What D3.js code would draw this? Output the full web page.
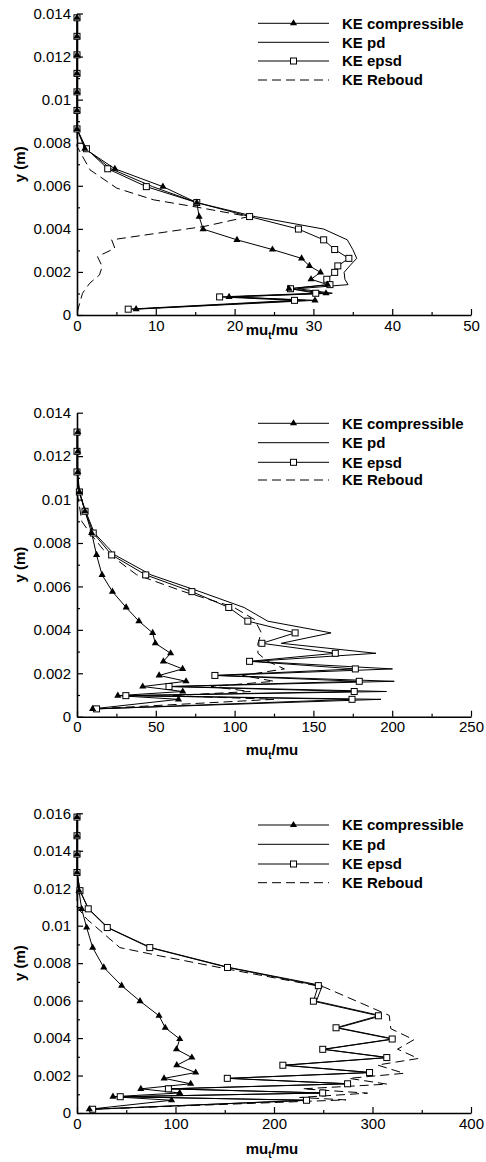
<!DOCTYPE html>
<html><head><meta charset="utf-8">
<script src="https://cdn.jsdelivr.net/npm/d3@7"></script>
<style>body{margin:0;background:#fff;} svg{display:block;font-family:"Liberation Sans",Arial,sans-serif;}</style>
</head><body><svg id="c" width="486" height="1162"></svg>
<script>
// ---------------- DATA ----------------
const seriesNames = ["KE compressible", "KE pd", "KE epsd", "KE Reboud"];

// Panel 1
const p1Y = [0.0138, 0.01294, 0.01208, 0.01122, 0.01036, 0.0095, 0.00864, 0.00772, 0.00679, 0.00596, 0.00522, 0.00457, 0.00399, 0.00349, 0.00304, 0.00263, 0.00228, 0.00198, 0.00166, 0.00141, 0.00122, 0.00101, 0.00084, 0.00068, 0.00027];
const p1Comp = [0, 0, 0, 0, 0, 0, 0, 1.0, 4.8, 10.9, 15.2, 15.5, 16.0, 20.3, 24.8, 28.5, 29.5, 30.9, 29.7, 31.8, 26.9, 31.6, 19.3, 30.2, 7.5];
const p1Pd = [0, 0, 0, 0, 0, 0, 0, 1.1, 4.3, 9.6, 15.2, 22.6, 31.3, 34.3, 35.0, 35.5, 34.6, 33.9, 34.0, 34.4, 28.0, 32.4, 19.5, 29.0, 7.0];
const p1Epsd = [0, 0, 0, 0, 0, 0, 0, 1.2, 3.9, 8.8, 15.2, 21.9, 28.1, 31.3, 32.7, 34.5, 33.1, 32.7, 31.7, 32.1, 27.1, 30.3, 18.1, 27.6, 6.5];
const p1RebY = [0.0086, 0.00783, 0.00674, 0.00589, 0.00535, 0.00501, 0.00457, 0.00411, 0.00349, 0.0031, 0.00271, 0.00225, 0.00186, 0.00147, 0.00101, 0.00023, 0];
const p1RebX = [0, 0, 1.65, 5.05, 9.7, 15.2, 21.8, 16.1, 4.4, 4.8, 2.6, 3.2, 2.85, 1.6, 0.7, 0.1, 0];
const p1XTicks = [0, 10, 20, 30, 40, 50];
const p1YTicks = [0, 0.002, 0.004, 0.006, 0.008, 0.01, 0.012, 0.014];

// Panel 2
const p2Y = [0.01311, 0.01222, 0.01127, 0.01035, 0.00946, 0.00846, 0.00745, 0.00653, 0.00576, 0.00503, 0.0044, 0.00386, 0.00338, 0.00292, 0.00255, 0.0022, 0.0019, 0.00163, 0.00139, 0.00116, 0.00097, 0.0008, 0.00036];
const p2Comp = [0.5, 0.5, 0.5, 1.5, 5.1, 9.3, 12.4, 15.9, 22.5, 31.2, 39.3, 48, 49.7, 59.4, 54.8, 67, 52.1, 69.2, 41.7, 67.1, 25.9, 64.4, 9.9];
const p2Pd = [0, 0, 0, 1.5, 5.5, 11, 24, 47, 78, 106, 121, 161.2, 129.6, 189.7, 112, 200.2, 90, 201.3, 60, 196.4, 32, 192.9, 12];
const p2Epsd = [0, 0, 0, 1.5, 5.1, 10.3, 22, 43.6, 72.9, 96.3, 108.4, 138.4, 117.3, 163.9, 109.5, 176.6, 87.5, 179.1, 58.4, 175.9, 31, 174.5, 12.4];
const p2RebY = [0.0103, 0.00983, 0.009, 0.00846, 0.00769, 0.00654, 0.00577, 0.00506, 0.00447, 0.00386, 0.00338, 0.00292, 0.00255, 0.0022, 0.0019, 0.00163, 0.00139, 0.00116, 0.00097, 0.0008, 0.00036];
const p2RebX = [0, 1.3, 3, 8.2, 16.7, 37.8, 67.3, 99, 112.7, 117, 114.8, 114.8, 121, 131.6, 105, 125, 85, 110, 60, 125, 10];
const p2XTicks = [0, 50, 100, 150, 200, 250];
const p2YTicks = [0, 0.002, 0.004, 0.006, 0.008, 0.01, 0.012, 0.014];

// Panel 3
const p3Y = [0.0158, 0.0148, 0.01382, 0.01284, 0.01187, 0.0109, 0.0099, 0.00883, 0.00777, 0.0068, 0.00597, 0.00519, 0.00455, 0.00395, 0.0034, 0.00296, 0.00255, 0.00216, 0.00185, 0.00156, 0.00129, 0.00107, 0.00087, 0.00068, 0.0002];
const p3Comp = [0, 0, 0, 0, 2, 4.7, 9.8, 15.9, 27.2, 45.3, 64, 83.3, 89.6, 104.3, 101, 116.6, 101.3, 120.5, 88.4, 115.4, 64.8, 104.3, 36.5, 96, 12.5];
const p3Pd = [0, 0, 0, 0, 3, 11.8, 31.5, 75, 154.5, 249, 243, 309, 265, 322, 251, 316, 211, 299, 154, 276, 94, 251, 45, 235, 16];
const p3Epsd = [0, 0, 0, 0, 3, 11.4, 30.7, 73.9, 152.8, 245, 240, 306, 263, 320, 249.5, 314.5, 209, 297, 152.6, 274.7, 92.8, 249.4, 43.9, 233, 15.9];
const p3RebY = [0.0118, 0.011, 0.01033, 0.00998, 0.00883, 0.00839, 0.00768, 0.00672, 0.00597, 0.00521, 0.0045, 0.00391, 0.00341, 0.00291, 0.00256, 0.00212, 0.00185, 0.00154, 0.00129, 0.00106, 0.00083, 0.0007, 0.0002];
const p3RebX = [0, 0, 10.4, 18.2, 43.5, 84, 153.2, 251, 283.8, 317, 318.6, 342, 325.4, 346.5, 305, 332, 276, 315, 229, 295, 226, 273, 15];
const p3XTicks = [0, 100, 200, 300, 400];
const p3YTicks = [0, 0.002, 0.004, 0.006, 0.008, 0.01, 0.012, 0.014, 0.016];

// ---------------- LAYOUT ----------------
const panels = [
  {y: p1Y, comp: p1Comp, pd: p1Pd, epsd: p1Epsd, rebY: p1RebY, rebX: p1RebX, xt: p1XTicks, yt: p1YTicks,
   top: 13.5, bottom: 315, legendY: [23.3, 42.3, 61, 80], titleY: 335},
  {y: p2Y, comp: p2Comp, pd: p2Pd, epsd: p2Epsd, rebY: p2RebY, rebX: p2RebX, xt: p2XTicks, yt: p2YTicks,
   top: 412.7, bottom: 716.7, legendY: [423.3, 442.7, 462.3, 480], titleY: 755},
  {y: p3Y, comp: p3Comp, pd: p3Pd, epsd: p3Epsd, rebY: p3RebY, rebX: p3RebX, xt: p3XTicks, yt: p3YTicks,
   top: 813.3, bottom: 1113, legendY: [825, 844.3, 864, 882.7], titleY: 1154},
];
const xL = 77, xR = 471;
const svg = d3.select("#c");
const fmtY = d => d === 0 ? "0" : String(+d.toFixed(3));

function mid(arr) { const r = []; for (let i = 0; i < arr.length - 1; i++) r.push((arr[i] + arr[i + 1]) / 2); return r; }

panels.forEach(P => {
  const xMax = P.xt[P.xt.length - 1], yMax = P.yt[P.yt.length - 1];
  const x = d3.scaleLinear().domain([0, xMax]).range([xL, xR]);
  const y = d3.scaleLinear().domain([0, yMax]).range([P.bottom, P.top]);
  const g = svg.append("g");

  // minor ticks
  g.append("g").attr("transform", `translate(0,${P.bottom})`)
    .call(d3.axisBottom(x).tickValues(mid(P.xt)).tickSize(-3).tickSizeOuter(0).tickFormat(""))
    .call(s => s.select(".domain").remove())
    .selectAll("line").attr("stroke", "#000").attr("stroke-width", 1.2);
  g.append("g").attr("transform", `translate(${xL},0)`)
    .call(d3.axisLeft(y).tickValues(mid(P.yt)).tickSize(-3).tickSizeOuter(0).tickFormat(""))
    .call(s => s.select(".domain").remove())
    .selectAll("line").attr("stroke", "#000").attr("stroke-width", 1.2);

  // major axes
  const ax = g.append("g").attr("transform", `translate(0,${P.bottom})`)
    .call(d3.axisBottom(x).tickValues(P.xt).tickSize(-6).tickSizeOuter(0).tickPadding(5).tickFormat(d => String(d)));
  const ay = g.append("g").attr("transform", `translate(${xL},0)`)
    .call(d3.axisLeft(y).tickValues(P.yt).tickSize(-6).tickSizeOuter(0).tickPadding(6).tickFormat(fmtY));
  [ax, ay].forEach(a => {
    a.select(".domain").attr("stroke", "#000").attr("stroke-width", 1.6);
    a.selectAll(".tick line").attr("stroke", "#000").attr("stroke-width", 1.2);
    a.selectAll("text").attr("fill", "#000").attr("font-size", 15).attr("font-family", "Liberation Sans, Arial, sans-serif");
  });

  // axis titles
  g.append("text").attr("transform", `translate(25,${(P.top + P.bottom) / 2}) rotate(-90)`)
    .attr("text-anchor", "middle").attr("font-weight", "bold").attr("font-size", 15).text("y (m)");
  const t = g.append("text").attr("x", 272).attr("y", P.titleY).attr("text-anchor", "middle")
    .attr("font-weight", "bold").attr("font-size", 15);
  t.append("tspan").text("mu");
  t.append("tspan").attr("font-size", 10).attr("dy", 4).text("t");
  t.append("tspan").attr("dy", -4).text("/mu");

  const line = d3.line().x(d => x(d[0])).y(d => y(d[1]));
  const reb = P.rebX.map((v, i) => [v, P.rebY[i]]);
  const pd = P.pd.map((v, i) => [v, P.y[i]]);
  const ep = P.epsd.map((v, i) => [v, P.y[i]]);
  const cp = P.comp.map((v, i) => [v, P.y[i]]);

  g.append("path").attr("d", line(reb)).attr("fill", "none").attr("stroke", "#000").attr("stroke-width", 1).attr("stroke-dasharray", "9,5");
  g.append("path").attr("d", line(pd)).attr("fill", "none").attr("stroke", "#000").attr("stroke-width", 1);
  g.append("path").attr("d", line(ep)).attr("fill", "none").attr("stroke", "#000").attr("stroke-width", 1);
  g.append("path").attr("d", line(cp)).attr("fill", "none").attr("stroke", "#000").attr("stroke-width", 1);

  const tri = d3.symbol(d3.symbolTriangle, 22);
  g.selectAll(".sq").data(ep).enter().append("rect")
    .attr("x", d => x(d[0]) - 3).attr("y", d => y(d[1]) - 3).attr("width", 6).attr("height", 6)
    .attr("fill", "#fff").attr("stroke", "#000").attr("stroke-width", 1);
  g.selectAll(".tr").data(cp).enter().append("path")
    .attr("transform", d => `translate(${x(d[0])},${y(d[1])})`).attr("d", tri).attr("fill", "#000");

  // legend
  const lx0 = 258, lx1 = 329, lm = 293.5, tx = 342;
  seriesNames.forEach((name, i) => {
    const ly = P.legendY[i];
    const ln = g.append("line").attr("x1", lx0).attr("x2", lx1).attr("y1", ly).attr("y2", ly)
      .attr("stroke", "#000").attr("stroke-width", 1);
    if (i === 3) ln.attr("stroke-dasharray", "9,5");
    if (i === 0) g.append("path").attr("transform", `translate(${lm},${ly})`).attr("d", tri).attr("fill", "#000");
    if (i === 2) g.append("rect").attr("x", lm - 3).attr("y", ly - 3).attr("width", 6).attr("height", 6)
      .attr("fill", "#fff").attr("stroke", "#000");
    g.append("text").attr("x", tx).attr("y", ly).attr("dy", "0.36em").attr("font-weight", "bold")
      .attr("font-size", 15).text(name);
  });
});
</script></body></html>
